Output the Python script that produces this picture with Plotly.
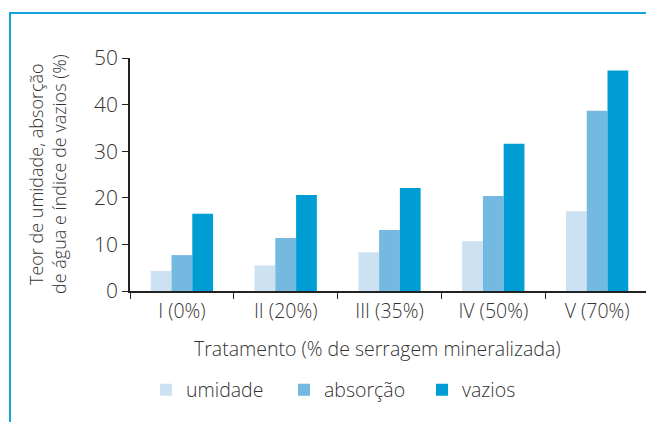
import plotly.graph_objects as go

# dados
tratamentos = ["I (0%)", "II (20%)", "III (35%)", "IV (50%)", "V (70%)"]
umidade = [4.3, 5.5, 8.3, 10.7, 17.1]
absorcao = [7.7, 11.4, 13.1, 20.4, 38.7]
vazios = [16.6, 20.6, 22.1, 31.6, 47.3]
y_ticks = [0, 10, 20, 30, 40, 50]

C_UMID = "#CCE1F2"
C_ABS = "#74B9E0"
C_VAZ = "#009DD4"
FRAME = "#14A3DC"
TEXT = "#333333"
FONT = "'Open Sans', sans-serif"

W, H = 654, 422
OFF = 8  # margem padrão do body na página
L, R, T, B = 130 - OFF, 5 + OFF, 58 - OFF, 131 + OFF

fig = go.Figure()
for nome, vals, cor in [("umidade", umidade, C_UMID),
                        ("absorção", absorcao, C_ABS),
                        ("vazios", vazios, C_VAZ)]:
    fig.add_trace(go.Bar(x=tratamentos, y=vals, name=nome,
                         marker=dict(color=cor, line=dict(width=0))))

pw = W - L - R
ph = H - T - B


def px_x(x):
    return (x - OFF - L) / pw


def px_y(y):
    return (H - B - (y - OFF)) / ph


fig.update_layout(
    width=W, height=H,
    margin=dict(l=L, r=R, t=T, b=B),
    paper_bgcolor="white", plot_bgcolor="white",
    font=dict(family=FONT, color=TEXT, size=16, weight=300),
    barmode="group", bargap=0.4, bargroupgap=0,
    showlegend=True,
    legend=dict(orientation="h", x=px_x(146), y=px_y(390), yanchor="middle",
                xanchor="left", font=dict(size=19.5, color=TEXT),
                entrywidth=93, entrywidthmode="pixels",
                itemclick=False, itemsizing="constant"),
    xaxis=dict(range=[-0.5, 4.5], showline=True, linecolor="#222",
               linewidth=1.5, ticks="outside", tickson="boundaries",
               ticklen=6, tickcolor="#222", tickfont=dict(size=19.5),
               showgrid=False, zeroline=False, ticklabelstandoff=2),
    yaxis=dict(range=[0, 50], tickvals=y_ticks, showline=True,
               linecolor="#222", linewidth=1.5, ticks="outside", ticklen=6,
               tickcolor="#222", tickfont=dict(size=21), showgrid=False,
               zeroline=False, ticklabelstandoff=0),
    annotations=[
        dict(text="Tratamento (% de serragem mineralizada)", x=px_x(377),
             y=px_y(348), xref="paper", yref="paper", showarrow=False,
             font=dict(size=19.5), xanchor="center", yanchor="middle"),
        dict(text="Teor de umidade, absorção<br>de água e índice de vazios (%)",
             x=px_x(47), y=px_y(174), xref="paper", yref="paper",
             showarrow=False, textangle=-90, font=dict(size=18),
             xanchor="center", yanchor="middle"),
    ],
    shapes=[
        dict(type="line", xref="paper", yref="paper", x0=px_x(10), x1=px_x(670),
             y0=px_y(13), y1=px_y(13), line=dict(color=FRAME, width=2)),
        dict(type="line", xref="paper", yref="paper", x0=px_x(10), x1=px_x(10),
             y0=px_y(12), y1=px_y(440), line=dict(color=FRAME, width=2)),
    ],
)

fig.write_html("out.html")
